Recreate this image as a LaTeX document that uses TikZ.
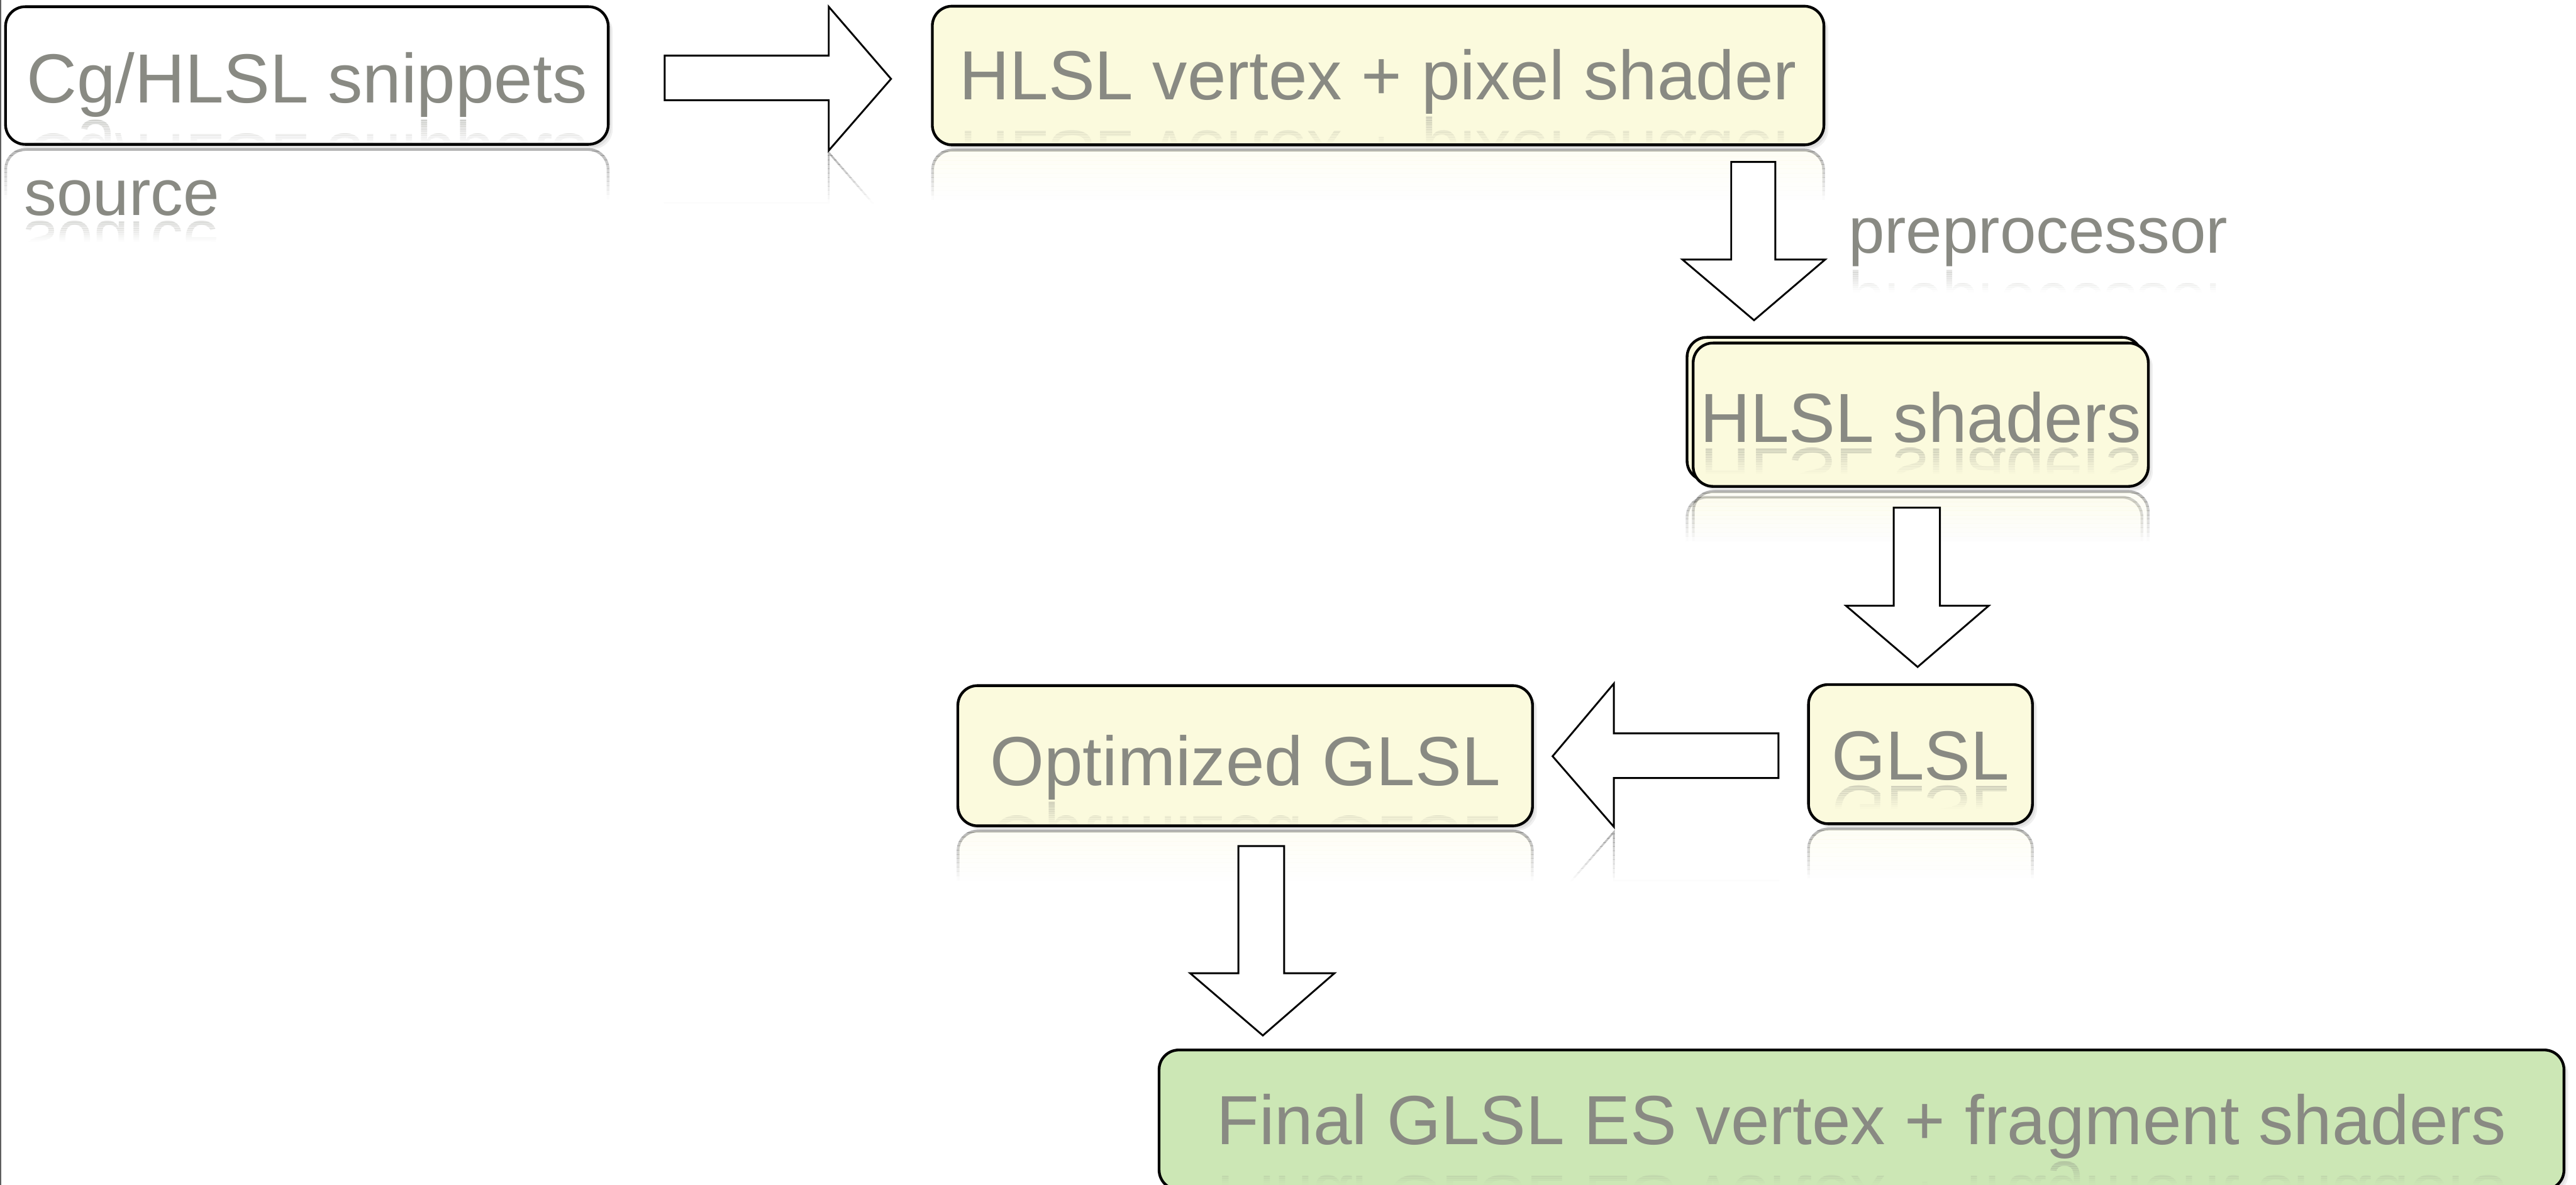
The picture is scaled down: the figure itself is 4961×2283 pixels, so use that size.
\documentclass[tikz,border=0pt]{standalone}
\usepackage{fontspec}
\setmainfont{Liberation Sans}
\definecolor{txtgray}{RGB}{137,138,131}
\definecolor{boxyellow}{RGB}{251,250,221}
\definecolor{boxgreen}{RGB}{204,231,181}
\definecolor{edgegray}{RGB}{95,95,95}
\tikzset{
  boxlabel/.style={text=txtgray, font=\fontsize{38.1}{40}\selectfont},
  sidelabel/.style={text=txtgray, font=\fontsize{35.6}{38}\selectfont, inner sep=0pt, anchor=base west},
  boxshape/.style={draw=black, line width=1.5pt, rounded corners=0.38cm},
  flowbox/.style={boxshape, boxlabel, inner sep=0pt, text depth=0pt},
  blockarrow/.style={draw=black, line width=1pt, fill=white, line join=miter},
  softshadow/.style={fill=black, draw=none, opacity=0.06, rounded corners=0.38cm},
}
% #1 xmin, #2 xmax, #3 mirror line y, #4 fade length, #5 start opacity, #6 content
\newcommand\reflectband[6]{%
  \foreach \k in {0,...,11}{%
    \pgfmathsetmacro{\opv}{#5*(1-(\k+0.5)/12)}%
    \begin{scope}
      \clip (#1,{#3+\k*#4/12}) rectangle (#2,{#3+(\k+1)*#4/12});
      \begin{scope}[opacity=\opv, shift={(0,{2*#3})}, yscale=-1]
        #6
      \end{scope}
    \end{scope}}}
% soft shadow of a box: #1 x1, #2 y1, #3 x2, #4 y2
\newcommand\boxshadow[4]{%
  \foreach \d in {3,6,9}{%
    \path[softshadow] ({#1+\d},{#2+\d}) rectangle ({#3+\d},{#4+\d});}}
\begin{document}
\begin{tikzpicture}[x=0.01cm, y=-0.01cm]
\useasboundingbox (0,0) rectangle (4961,2283);
\clip (0,0) rectangle (4961,2283);
\fill[white] (0,0) rectangle (4961,2283);

% reflections of boxes and side arrows
\reflectband{0}{1190}{283}{100}{0.3}{\path[boxshape, fill=white] (11,13) rectangle (1171,278);}
\reflectband{1780}{3530}{284}{100}{0.3}{\path[boxshape, fill=boxyellow] (1796,12) rectangle (3512,279);}
\reflectband{3230}{4150}{942}{100}{0.3}{\path[boxshape, fill=boxyellow] (3249,650) rectangle (4125,926);
  \path[boxshape, fill=boxyellow] (3261,661) rectangle (4137,937);}
\reflectband{3470}{3930}{1592}{100}{0.3}{\path[boxshape, fill=boxyellow] (3483,1319) rectangle (3914,1587);}
\reflectband{1830}{2970}{1596}{100}{0.3}{\path[boxshape, fill=boxyellow] (1845,1321) rectangle (2951,1591);}
\reflectband{1270}{1730}{292}{100}{0.3}{\path[blockarrow] (1280,107) -- (1596,107) -- (1596,13) -- (1716,152) -- (1596,290) -- (1596,193) -- (1280,193) -- cycle;}
\reflectband{2980}{3440}{1598}{100}{0.3}{\path[blockarrow] (3425,1413) -- (3108,1413) -- (3108,1317) -- (2990,1457) -- (3108,1593) -- (3108,1499) -- (3425,1499) -- cycle;}

% left edge line
\coordinate (edgetop) at (1,0);
\coordinate (edgebot) at (1,2283);
\draw[edgegray, line width=0.5pt] (edgetop) -- (edgebot);

% soft shadows of boxes
\boxshadow{11}{13}{1171}{278}
\boxshadow{1796}{12}{3512}{279}
\boxshadow{3261}{661}{4137}{937}
\boxshadow{3483}{1319}{3914}{1587}
\boxshadow{1845}{1321}{2951}{1591}
\boxshadow{2233}{2023}{4937}{2292}

% boxes
\node[flowbox, fill=white, minimum width=11.60cm, minimum height=2.65cm, text height=1.05cm] (snip) at (591,145.5) {Cg/HLSL snippets};
\node[flowbox, fill=boxyellow, minimum width=17.16cm, minimum height=2.67cm, text height=0.93cm] (hlslvp) at (2654,145.5) {HLSL vertex + pixel shader};
\path[boxshape, fill=boxyellow] (3249,650) rectangle (4125,926);
\node[flowbox, fill=boxyellow, minimum width=8.76cm, minimum height=2.76cm, text height=1.06cm] (hlsls) at (3699,799) {HLSL shaders};
\node[flowbox, fill=boxyellow, minimum width=4.31cm, minimum height=2.68cm, text height=0.98cm] (glsl) at (3698.5,1453) {GLSL};
\node[flowbox, fill=boxyellow, minimum width=11.06cm, minimum height=2.70cm, text height=1.14cm] (optglsl) at (2398,1456) {Optimized GLSL};
\node[flowbox, fill=boxgreen, minimum width=27.04cm, minimum height=2.69cm, text height=0.95cm] (final) at (3585,2157.5) {Final GLSL ES vertex + fragment shaders};

% side labels
\node[sidelabel] (srclbl) at (46,415) {source};
\node[sidelabel] (pplbl) at (3559,487) {preprocessor};

% text reflections
\reflectband{11}{1171}{228}{50}{0.3}{\node[boxlabel, inner sep=0pt, anchor=base, transform shape] (rsnip\k) at (591,198) {Cg/HLSL snippets};}
\reflectband{1796}{3512}{222}{57}{0.3}{\node[boxlabel, inner sep=0pt, anchor=base, transform shape] (rhlslvp\k) at (2654,192) {HLSL vertex + pixel shader};}
\reflectband{3261}{4137}{858}{55}{0.3}{\node[boxlabel, inner sep=0pt, anchor=base, transform shape] (rhlsls\k) at (3699,852) {HLSL shaders};}
\reflectband{3483}{3914}{1508}{50}{0.3}{\node[boxlabel, inner sep=0pt, anchor=base, transform shape] (rglsl\k) at (3698.5,1502) {GLSL};}
\reflectband{1845}{2951}{1543}{48}{0.3}{\node[boxlabel, inner sep=0pt, anchor=base, transform shape] (roptglsl\k) at (2398,1513) {Optimized GLSL};}
\reflectband{2233}{4937}{2235}{47}{0.3}{\node[boxlabel, inner sep=0pt, anchor=base, transform shape] (rfinal\k) at (3585,2205) {Final GLSL ES vertex + fragment shaders};}
\reflectband{30}{440}{421}{45}{0.25}{\node[sidelabel, transform shape] (rsrclbl\k) at (46,415) {source};}
\reflectband{3540}{4320}{517}{45}{0.25}{\node[sidelabel, transform shape] (rpplbl\k) at (3559,487) {preprocessor};}

% block arrows
\coordinate (ar1tail) at (1280,150);
\coordinate (ar1tip) at (1716,152);
\draw[blockarrow] (ar1tail) ++(0,-43) -- ++(316,0) -- ++(0,-94) -- (ar1tip) -- ++(-120,138) -- ++(0,-97) -- ++(-316,0) -- cycle;

\coordinate (ar2tail) at (3377,312);
\coordinate (ar2tip) at (3378,617);
\draw[blockarrow] (ar2tail) ++(-43,0) -- ++(85,0) -- ++(0,188) -- ++(96,0) -- (ar2tip) -- ++(-138,-117) -- ++(94,0) -- cycle;

\coordinate (ar3tail) at (3691,978);
\coordinate (ar3tip) at (3693,1285);
\draw[blockarrow] (ar3tail) ++(-44,0) -- ++(89,0) -- ++(0,189) -- ++(94,0) -- (ar3tip) -- ++(-138,-118) -- ++(92,0) -- cycle;

\coordinate (ar4tail) at (3425,1456);
\coordinate (ar4tip) at (2990,1457);
\draw[blockarrow] (ar4tail) ++(0,-43) -- ++(-317,0) -- ++(0,-96) -- (ar4tip) -- ++(118,136) -- ++(0,-94) -- ++(317,0) -- cycle;

\coordinate (ar5tail) at (2429,1630);
\coordinate (ar5tip) at (2432,1995);
\draw[blockarrow] (ar5tail) ++(-44,0) -- ++(88,0) -- ++(0,245) -- ++(97,0) -- (ar5tip) -- ++(-140,-120) -- ++(93,0) -- cycle;
\end{tikzpicture}
\end{document}
